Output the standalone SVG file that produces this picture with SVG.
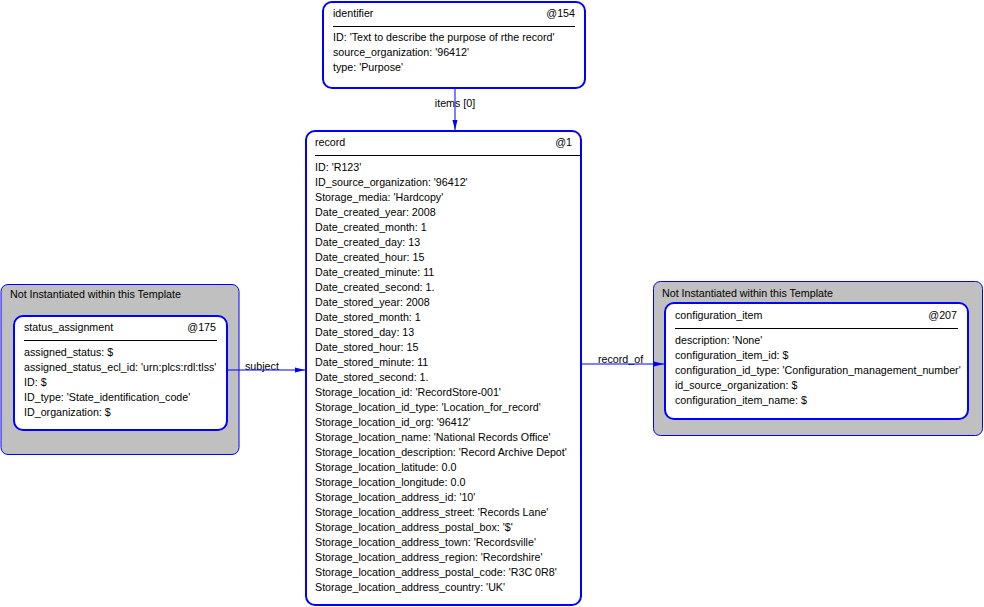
<svg xmlns="http://www.w3.org/2000/svg" width="984" height="607" viewBox="0 0 984 607">
<style>
text{font-family:"Liberation Sans",Arial,sans-serif;font-size:10.7px;fill:#000}
.box{fill:#fff;stroke:#0000ff;stroke-width:2}
.grp{fill:#c0c0c0;stroke:#0000ff;stroke-width:1}
.div{stroke:#000;stroke-width:1}
.conn{stroke:#0000ff;stroke-width:1;fill:none}
.r{text-anchor:end}
</style>
<defs>
<marker id="ah" markerWidth="10" markerHeight="6" refX="10" refY="3" orient="auto" markerUnits="userSpaceOnUse">
<path d="M0,0.5 L10,3 L0,5.5 Z" fill="#0000ff"/>
</marker>
</defs>
<rect width="984" height="607" fill="#fff"/>
<g id="group-left">
<rect class="grp" x="1" y="284.5" width="238" height="170" rx="7"/>
<text x="10" y="298">Not Instantiated within this Template</text>
</g>
<g id="group-right">
<rect class="grp" x="653.5" y="281.5" width="329" height="154" rx="7"/>
<text x="662" y="297">Not Instantiated within this Template</text>
</g>
<g id="connectors">
<text x="455" y="107" text-anchor="middle">items [0]</text>
<line class="conn" x1="455" y1="89" x2="455" y2="130" marker-end="url(#ah)"/>
<text x="245" y="370">subject</text>
<line class="conn" x1="227" y1="370" x2="305" y2="370" marker-end="url(#ah)"/>
<text x="598" y="363">record_of</text>
<line class="conn" x1="581" y1="364" x2="664" y2="364" marker-end="url(#ah)"/>
</g>
<g id="identifier">
<rect class="box" x="323" y="2" width="262" height="86" rx="9"/>
<text x="333" y="17">identifier</text>
<text class="r" x="575" y="17">@154</text>
<line class="div" x1="333" y1="26.5" x2="575" y2="26.5"/>
<text x="333" y="41">ID: 'Text to describe the purpose of rthe record'</text>
<text x="333" y="56">source_organization: '96412'</text>
<text x="333" y="71">type: 'Purpose'</text>
</g>
<g id="record">
<rect class="box" x="306" y="131" width="275" height="474" rx="9"/>
<text x="315" y="146">record</text>
<text class="r" x="572" y="146">@1</text>
<line class="div" x1="315" y1="155.5" x2="581" y2="155.5"/>
<text x="315" y="171">ID: 'R123'</text>
<text x="315" y="186">ID_source_organization: '96412'</text>
<text x="315" y="201">Storage_media: 'Hardcopy'</text>
<text x="315" y="216">Date_created_year: 2008</text>
<text x="315" y="231">Date_created_month: 1</text>
<text x="315" y="246">Date_created_day: 13</text>
<text x="315" y="261">Date_created_hour: 15</text>
<text x="315" y="276">Date_created_minute: 11</text>
<text x="315" y="291">Date_created_second: 1.</text>
<text x="315" y="306">Date_stored_year: 2008</text>
<text x="315" y="321">Date_stored_month: 1</text>
<text x="315" y="336">Date_stored_day: 13</text>
<text x="315" y="351">Date_stored_hour: 15</text>
<text x="315" y="366">Date_stored_minute: 11</text>
<text x="315" y="381">Date_stored_second: 1.</text>
<text x="315" y="396">Storage_location_id: 'RecordStore-001'</text>
<text x="315" y="411">Storage_location_id_type: 'Location_for_record'</text>
<text x="315" y="426">Storage_location_id_org: '96412'</text>
<text x="315" y="441">Storage_location_name: 'National Records Office'</text>
<text x="315" y="456">Storage_location_description: 'Record Archive Depot'</text>
<text x="315" y="471">Storage_location_latitude: 0.0</text>
<text x="315" y="486">Storage_location_longitude: 0.0</text>
<text x="315" y="501">Storage_location_address_id: '10'</text>
<text x="315" y="516">Storage_location_address_street: 'Records Lane'</text>
<text x="315" y="531">Storage_location_address_postal_box: '$'</text>
<text x="315" y="546">Storage_location_address_town: 'Recordsville'</text>
<text x="315" y="561">Storage_location_address_region: 'Recordshire'</text>
<text x="315" y="576">Storage_location_address_postal_code: 'R3C 0R8'</text>
<text x="315" y="591">Storage_location_address_country: 'UK'</text>
</g>
<g id="status_assignment">
<rect class="box" x="14" y="316" width="213" height="114" rx="9"/>
<text x="24" y="331">status_assignment</text>
<text class="r" x="216" y="331">@175</text>
<line class="div" x1="24" y1="340.5" x2="217" y2="340.5"/>
<text x="24" y="356">assigned_status: $</text>
<text x="24" y="371">assigned_status_ecl_id: 'urn:plcs:rdl:tlss'</text>
<text x="24" y="386">ID: $</text>
<text x="24" y="401">ID_type: 'State_identification_code'</text>
<text x="24" y="416">ID_organization: $</text>
</g>
<g id="configuration_item">
<rect class="box" x="665" y="303" width="303" height="116" rx="9"/>
<text x="675" y="319">configuration_item</text>
<text class="r" x="957" y="319">@207</text>
<line class="div" x1="675" y1="328.5" x2="958" y2="328.5"/>
<text x="675" y="344">description: 'None'</text>
<text x="675" y="359">configuration_item_id: $</text>
<text x="675" y="374">configuration_id_type: 'Configuration_management_number'</text>
<text x="675" y="389">id_source_organization: $</text>
<text x="675" y="404">configuration_item_name: $</text>
</g>
</svg>
